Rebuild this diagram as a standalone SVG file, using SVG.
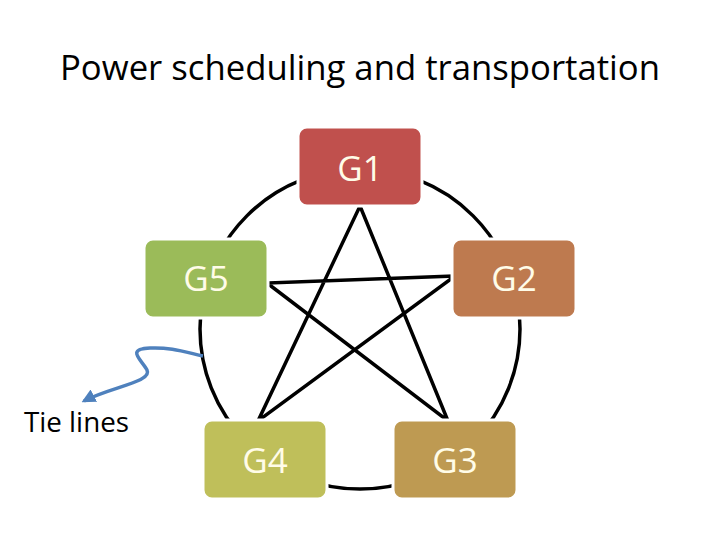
<svg xmlns="http://www.w3.org/2000/svg" width="720" height="540" viewBox="0 0 720 540">
<style>
.t{font-family:"Open Sans","Liberation Sans",sans-serif;}
.lbl{font-family:"Open Sans","Liberation Sans",sans-serif;font-size:35px;fill:#FFFCE8;text-anchor:middle;}
.box{stroke:#FFFFFF;stroke-width:3;}
.ln{fill:none;stroke:#000;stroke-width:3.5;stroke-linejoin:miter;stroke-miterlimit:10;}
</style>
<defs>
<marker id="ah" viewBox="0 0 10 10" refX="8" refY="5" markerWidth="4" markerHeight="4" orient="auto-start-reverse">
<path d="M0,0 L10,5 L0,10 z" fill="#4F81BD"/>
</marker>
</defs>
<rect width="720" height="540" fill="#FFFFFF"/>
<text class="t" x="360" y="80" font-size="35" text-anchor="middle" textLength="600" lengthAdjust="spacingAndGlyphs" fill="#000">Power scheduling and transportation</text>
<g id="connectors">
<circle class="ln" cx="360" cy="329" r="160"/>
<path class="ln" d="M360,206 L448,421 L267,283 L455,276 L258,421 Z"/>
<path d="M203,356 C185,352 170,347 150,348 C125,349 142,360 147,370 C153,382 110,387 84,401" fill="none" stroke="#4F81BD" stroke-width="3.5" marker-end="url(#ah)"/>
</g>
<g id="G1"><rect class="box" x="298" y="127" width="124" height="79" rx="9" fill="#C0504D"/><text class="lbl" x="360" y="181">G1</text></g>
<g id="G5"><rect class="box" x="144" y="239" width="124" height="79" rx="9" fill="#9BBB59"/><text class="lbl" x="206" y="291">G5</text></g>
<g id="G2"><rect class="box" x="452" y="239" width="124" height="79" rx="9" fill="#BE7A4F"/><text class="lbl" x="514" y="291">G2</text></g>
<g id="G4"><rect class="box" x="203" y="420" width="124" height="79" rx="9" fill="#BFBF5A"/><text class="lbl" x="265" y="473">G4</text></g>
<g id="G3"><rect class="box" x="393" y="420" width="124" height="79" rx="9" fill="#BE9A52"/><text class="lbl" x="455" y="473">G3</text></g>
<text class="t" x="24" y="432" font-size="27" textLength="105" lengthAdjust="spacingAndGlyphs" fill="#000">Tie lines</text>
</svg>
